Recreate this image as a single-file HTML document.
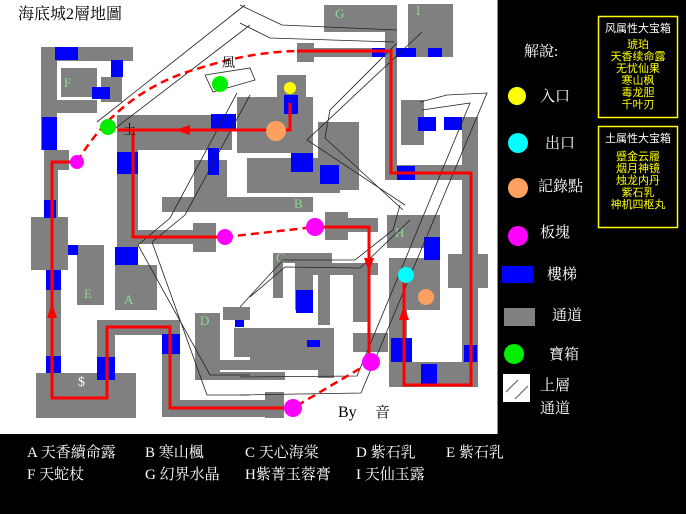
<!DOCTYPE html>
<html><head><meta charset="utf-8"><style>
html,body{margin:0;padding:0;background:#000;}
svg{display:block;}
.s{font-family:"Liberation Serif","Noto Serif CJK SC",serif;}
</style></head><body>
<svg width="686" height="514" viewBox="0 0 686 514" xmlns="http://www.w3.org/2000/svg">
<rect x="0" y="0" width="686" height="514" fill="#000"/>
<rect x="0" y="0" width="497" height="434" fill="#fff"/>
<line x1="497.5" y1="0" x2="497.5" y2="434" stroke="#888"/>
<text x="18" y="19" class="s" font-size="16" fill="#000">海底城2層地圖</text>

<g fill="#808080">
<!-- F block -->
<rect x="41" y="47" width="92" height="14"/>
<rect x="41" y="47" width="16" height="103"/>
<rect x="61" y="68" width="36" height="29"/>
<rect x="101" y="77" width="21" height="25"/>
<rect x="41" y="100" width="56" height="13"/>
<rect x="44" y="150" width="25" height="20"/>
<rect x="44" y="150" width="14" height="70"/>
<!-- top central -->
<rect x="117" y="115" width="115" height="35"/>
<rect x="117" y="115" width="21" height="135"/>
<rect x="237" y="97" width="76" height="56"/>
<rect x="277" y="75" width="29" height="28"/>
<rect x="297" y="43" width="17" height="19"/>
<rect x="297" y="48" width="88" height="9"/>
<rect x="324" y="5" width="73" height="27"/>
<rect x="385" y="5" width="12" height="175"/>
<rect x="408" y="4" width="45" height="53"/>
<rect x="385" y="165" width="93" height="15"/>
<rect x="401" y="100" width="23" height="45"/>
<rect x="462" y="117" width="16" height="263"/>
<rect x="448" y="254" width="40" height="34"/>
<rect x="318" y="122" width="41" height="68"/>
<rect x="247" y="158" width="93" height="35"/>
<rect x="194" y="160" width="33" height="40"/>
<rect x="162" y="197" width="151" height="15"/>
<rect x="138" y="230" width="78" height="14"/>
<rect x="193" y="223" width="23" height="29"/>
<!-- left lower -->
<rect x="31" y="217" width="37" height="53"/>
<rect x="77" y="245" width="27" height="60"/>
<rect x="46" y="270" width="15" height="110"/>
<rect x="36" y="373" width="100" height="45"/>
<rect x="97" y="320" width="83" height="15"/>
<rect x="97" y="320" width="18" height="60"/>
<rect x="162" y="334" width="18" height="83"/>
<rect x="162" y="400" width="110" height="17"/>
<rect x="115" y="265" width="42" height="45"/>
<!-- D region -->
<rect x="195" y="313" width="25" height="67"/>
<rect x="195" y="372" width="90" height="8"/>
<rect x="223" y="307" width="27" height="13"/>
<rect x="234" y="328" width="100" height="29"/>
<rect x="250" y="350" width="84" height="20"/>
<rect x="318" y="337" width="16" height="41"/>
<rect x="210" y="360" width="124" height="10"/>
<!-- C region -->
<rect x="325" y="212" width="23" height="28"/>
<rect x="325" y="218" width="53" height="14"/>
<rect x="273" y="253" width="59" height="10"/>
<rect x="273" y="253" width="10" height="45"/>
<rect x="295" y="263" width="83" height="12"/>
<rect x="295" y="263" width="18" height="47"/>
<rect x="318" y="263" width="12" height="62"/>
<rect x="353" y="263" width="17" height="59"/>
<rect x="353" y="333" width="35" height="19"/>
<rect x="265" y="392" width="19" height="26"/>
<!-- H region -->
<rect x="387" y="215" width="53" height="33"/>
<rect x="389" y="258" width="51" height="52"/>
<rect x="389" y="310" width="18" height="77"/>
<rect x="389" y="362" width="89" height="25"/>
</g>

<g fill="#0000ff">
<rect x="55" y="47" width="23" height="13"/>
<rect x="111" y="60" width="12" height="17"/>
<rect x="92" y="87" width="18" height="12"/>
<rect x="42" y="117" width="15" height="33"/>
<rect x="44" y="200" width="12" height="18"/>
<rect x="211" y="114" width="25" height="16"/>
<rect x="117" y="152" width="21" height="22"/>
<rect x="208" y="148" width="11" height="27"/>
<rect x="284" y="95" width="14" height="19"/>
<rect x="291" y="153" width="22" height="19"/>
<rect x="320" y="165" width="19" height="19"/>
<rect x="372" y="48" width="13" height="9"/>
<rect x="396" y="48" width="20" height="9"/>
<rect x="428" y="48" width="14" height="9"/>
<rect x="418" y="117" width="18" height="14"/>
<rect x="444" y="117" width="18" height="13"/>
<rect x="397" y="166" width="18" height="14"/>
<rect x="68" y="245" width="10" height="10"/>
<rect x="46" y="270" width="15" height="20"/>
<rect x="46" y="356" width="15" height="17"/>
<rect x="97" y="357" width="18" height="23"/>
<rect x="162" y="334" width="18" height="20"/>
<rect x="115" y="247" width="23" height="18"/>
<rect x="235" y="320" width="9" height="7"/>
<rect x="296" y="290" width="17" height="23"/>
<rect x="307" y="340" width="13" height="7"/>
<rect x="424" y="237" width="16" height="23"/>
<rect x="391" y="338" width="21" height="24"/>
<rect x="421" y="364" width="16" height="22"/>
<rect x="464" y="345" width="13" height="17"/>
</g>

<g class="s" font-size="13" fill="#8fd88f">
<text x="64" y="87">F</text><text x="335" y="18">G</text><text x="416" y="15">I</text>
<text x="294" y="208">B</text><text x="84" y="298">E</text><text x="124" y="304">A</text>
<text x="200" y="325">D</text><text x="276" y="262">C</text><text x="395" y="237">H</text>
</g>
<text x="78" y="386" class="s" font-size="14" fill="#fff">$</text>

<g fill="none" stroke="#222" stroke-width="0.8">
<polyline points="97,122 245,5"/>
<polyline points="113,130 250,25"/>
<polyline points="240,5 282,25 397,30"/>
<polyline points="240,23 270,38 394,42"/>
<polyline points="422,32 307,140 405,205"/>
<polyline points="397,43 330,110 325,138 403,210"/>
<polyline points="205,75 250,68 255,80 213,92 205,75"/>
<polyline points="237,93 170,218 138,245 210,375 250,375"/>
<polyline points="250,95 185,215 152,242 207,395 250,395"/>
<polyline points="420,102 447,95 487,93 361,393 240,395"/>
<polyline points="422,110 470,103 357,376 240,377"/>
<polyline points="240,307 283,260 355,260 393,230 400,205"/>
<polyline points="250,297 285,267 360,268 410,220"/>
</g>

<g stroke="#f00" stroke-width="3" fill="none">
<polyline points="290,103 290,130 118,130"/>
<polyline points="133,130 133,237 225,237"/>
<polyline points="297,51 391,51 391,173 471,173 471,385 404,385 404,280"/>
<polyline points="315,227 369,227 369,362"/>
<polyline points="293,408 170,408 170,327 107,327 107,398 52,398 52,162 77,162"/>
<path d="M77,162 Q120,90 200,68 Q250,52 297,51" stroke-dasharray="8,5" stroke-width="2.5"/>
<line x1="225" y1="237" x2="315" y2="227" stroke-dasharray="8,5" stroke-width="2.5"/>
<line x1="371" y1="362" x2="293" y2="408" stroke-dasharray="8,5" stroke-width="2.5"/>
</g>
<g fill="#f00">
<polygon points="175,130 190,125 190,135"/>
<polygon points="369,272 364,258 374,258"/>
<polygon points="404,306 399,320 409,320"/>
<polygon points="52,303 47,318 57,318"/>
</g>

<circle cx="290" cy="88" r="6" fill="#ff0"/>
<circle cx="276" cy="131" r="10" fill="#ffa060"/>
<circle cx="426" cy="297" r="8" fill="#ffa060"/>
<circle cx="406" cy="275" r="8" fill="#0ff"/>
<circle cx="220" cy="84" r="8" fill="#0e0"/>
<circle cx="108" cy="127" r="8" fill="#0e0"/>
<g fill="#f0f">
<circle cx="77" cy="162" r="7"/><circle cx="225" cy="237" r="8"/>
<circle cx="315" cy="227" r="9"/><circle cx="371" cy="362" r="9"/><circle cx="293" cy="408" r="9"/>
</g>
<text x="222" y="67" class="s" font-size="13" fill="#000">風</text>
<text x="123" y="134" class="s" font-size="13" fill="#000">土</text>
<text x="338" y="417" class="s" font-size="16" fill="#000">By</text>
<text x="375" y="417" class="s" font-size="15" fill="#000">音</text>

<!-- legend -->
<g class="s" fill="#fff" font-size="15">
<text x="524" y="56">解說:</text>
<text x="540" y="101">入口</text>
<text x="545" y="148">出口</text>
<text x="538" y="191">記錄點</text>
<text x="540" y="237">板塊</text>
<text x="547" y="279">樓梯</text>
<text x="552" y="320">通道</text>
<text x="549" y="359">寶箱</text>
<text x="540" y="390">上層</text>
<text x="540" y="413">通道</text>
</g>
<circle cx="517" cy="96" r="9" fill="#ff0"/>
<circle cx="518" cy="143" r="10" fill="#0ff"/>
<circle cx="518" cy="188" r="10" fill="#ffa060"/>
<circle cx="518" cy="236" r="10" fill="#f0f"/>
<rect x="502" y="266" width="31" height="17" fill="#0000ff"/>
<rect x="504" y="308" width="31" height="18" fill="#808080"/>
<circle cx="514" cy="354" r="10" fill="#0e0"/>
<rect x="503" y="374" width="27" height="28" fill="#fff"/>
<line x1="506" y1="392" x2="518" y2="380" stroke="#555"/>
<line x1="515" y1="399" x2="528" y2="386" stroke="#555"/>

<rect x="598.5" y="16.5" width="79" height="101" fill="none" stroke="#ff0" stroke-width="1.5"/>
<rect x="598.5" y="126.5" width="79" height="101" fill="none" stroke="#ff0" stroke-width="1.5"/>
<g font-family="Liberation Sans,Noto Sans CJK SC,sans-serif" font-size="11" text-anchor="middle">
<text x="638" y="32" fill="#fff">风属性大宝箱</text>
<g fill="#ff0"><text x="638" y="48">琥珀</text><text x="638" y="60">天香续命露</text><text x="638" y="72">无忧仙果</text><text x="638" y="84">寒山枫</text><text x="638" y="96">毒龙胆</text><text x="638" y="108">千叶刃</text></g>
<text x="638" y="142" fill="#fff">土属性大宝箱</text>
<g fill="#ff0"><text x="638" y="160">蹙金云履</text><text x="638" y="172">烟月神镜</text><text x="638" y="184">烛龙内丹</text><text x="638" y="196">紫石乳</text><text x="638" y="208">神机四枢丸</text></g>
</g>

<g class="s" fill="#fff" font-size="15">
<text x="27" y="457">A 天香續命露</text><text x="145" y="457">B 寒山楓</text><text x="245" y="457">C 天心海棠</text><text x="356" y="457">D 紫石乳</text><text x="446" y="457">E 紫石乳</text>
<text x="27" y="479">F 天蛇杖</text><text x="145" y="479">G 幻界水晶</text><text x="245" y="479">H紫菁玉蓉膏</text><text x="356" y="479">I 天仙玉露</text>
</g>
</svg>
</body></html>
